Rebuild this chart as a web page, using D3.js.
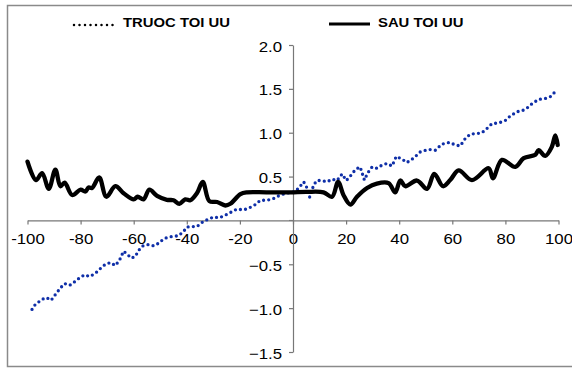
<!DOCTYPE html>
<html>
<head>
<meta charset="utf-8">
<script src="https://cdn.jsdelivr.net/npm/d3@7"></script>
<style>
  body { margin: 0; background: #fff; }
  text { font-family: "Liberation Sans", Arial, sans-serif; }
</style>
</head>
<body>
<div id="chart"></div>
<script>
// values: [x, y]
const sauPts = [
    [-100, 0.67], [-96.8, 0.46], [-94.5, 0.54], [-92, 0.36], [-89.5, 0.58], [-87.6, 0.39],
    [-86, 0.43], [-83.2, 0.29], [-80, 0.35], [-78.2, 0.33], [-77, 0.375], [-75.7, 0.37],
    [-73, 0.49], [-70.3, 0.27], [-66.9, 0.39], [-63.8, 0.31], [-60, 0.24], [-58.5, 0.27],
    [-56.3, 0.24], [-54.1, 0.35], [-51.2, 0.28], [-47.5, 0.235], [-45, 0.23], [-42.8, 0.19],
    [-40.6, 0.24], [-38.7, 0.23], [-36.2, 0.31], [-34, 0.44], [-31.5, 0.22], [-28.6, 0.21],
    [-25.5, 0.17], [-23.6, 0.19], [-19.8, 0.3], [-17.3, 0.32], [-10, 0.32], [-1, 0.32],
    [5, 0.325], [11.5, 0.32], [14.7, 0.27], [17, 0.44], [19, 0.29], [21.6, 0.18],
    [24.1, 0.27], [27.9, 0.37], [31.6, 0.42], [36, 0.425], [38.5, 0.32], [40.4, 0.455],
    [42.3, 0.39], [46.7, 0.455], [50.5, 0.36], [53.2, 0.53], [56.5, 0.39], [59.2, 0.46],
    [62.4, 0.57], [67.4, 0.46], [73.7, 0.595], [75.3, 0.48], [78.7, 0.69], [83.7, 0.61],
    [86.9, 0.71], [91.3, 0.75], [92.5, 0.8], [95, 0.735], [97.5, 0.84], [98.8, 0.97],
    [99.7, 0.86]
];

const truocPts = [
    [-98.3, -1.015], [-97.1, -0.96], [-94.5, -0.9], [-92.9, -0.88], [-91.1, -0.91], [-89.5, -0.845],
    [-87.6, -0.77], [-86, -0.72], [-84.1, -0.74], [-82.3, -0.7], [-80.4, -0.655], [-78.5, -0.62],
    [-76.6, -0.64], [-74.5, -0.605], [-72.6, -0.55], [-70.7, -0.5], [-68.8, -0.48], [-66.9, -0.515],
    [-65.3, -0.45], [-63.8, -0.35], [-62.3, -0.39], [-60.9, -0.43], [-59.4, -0.41], [-58.1, -0.34],
    [-56.5, -0.29], [-54.4, -0.275], [-52.5, -0.29], [-50.6, -0.26], [-48.7, -0.21], [-46.9, -0.19],
    [-45, -0.18], [-43.1, -0.175], [-41.2, -0.125], [-39.9, -0.075], [-38, -0.07], [-36.2, -0.07],
    [-33.7, -0.01], [-31.8, 0.015], [-29.9, 0.04], [-28, 0.03], [-26.1, 0.05], [-23.6, 0.09],
    [-21.1, 0.13], [-18.6, 0.12], [-16.7, 0.14], [-14.2, 0.18], [-12.3, 0.23], [-9.8, 0.23],
    [-7.3, 0.25], [-4.8, 0.29], [-2.3, 0.31], [0.9, 0.33], [2.7, 0.39], [4, 0.44],
    [5, 0.39], [6.3, 0.265], [7.8, 0.405], [9, 0.455], [10.9, 0.455], [12.8, 0.44],
    [14.7, 0.47], [16.6, 0.455], [18.5, 0.53], [20.1, 0.455], [22, 0.52], [23.5, 0.58],
    [25.3, 0.61], [26.9, 0.46], [28.1, 0.54], [29.8, 0.61], [31.6, 0.595], [33.5, 0.63],
    [35.4, 0.65], [37.3, 0.62], [38.9, 0.73], [41, 0.7], [42.9, 0.66], [45.4, 0.71],
    [47.9, 0.78], [51.1, 0.81], [53.6, 0.8], [56.1, 0.87], [59, 0.89], [61.1, 0.86],
    [63, 0.85], [64.9, 0.935], [66.8, 0.985], [69.3, 0.99], [71.2, 1.0], [73.1, 1.05],
    [75, 1.105], [77.4, 1.11], [80, 1.14], [81.8, 1.19], [84.4, 1.24], [86.3, 1.25],
    [88.1, 1.28], [90, 1.33], [92.5, 1.38], [95, 1.39], [96.9, 1.41], [98.2, 1.45],
    [99.4, 1.49]
];

const xTicks = [-100, -80, -60, -40, -20, 0, 20, 40, 60, 80, 100];
const yTicks = [-1.5, -1.0, -0.5, 0, 0.5, 1.0, 1.5, 2.0];
const seriesNames = ["TRUOC TOI UU", "SAU TOI UU"];

const width = 572,
      height = 371,
      stretch = 1.12; // text in the picture is a bit wide

let svg = d3.select("#chart")
    .append("svg")
    .attr("width", width)
    .attr("height", height);

// outer frame
svg.append("rect")
    .attr("x", 7.5).attr("y", 5.5)
    .attr("width", 570).attr("height", 361)
    .attr("fill", "none")
    .attr("stroke", "#8a8a8a")
    .attr("stroke-width", 1.5);

let x = d3.scaleLinear()
    .domain([-100, 100])
    .range([27.5, 558.5]);

let y = d3.scaleLinear()
    .domain([-1.5, 2])
    .range([352, 45]);

// x axis through y = 0
let gx = svg.append("g")
    .attr("transform", `translate(0,${y(0)})`)
    .call(d3.axisBottom(x)
        .tickValues(xTicks)
        .tickSize(4)
        .tickSizeOuter(0)
        .tickPadding(8.5)
        .tickFormat(d => d));

// y axis through x = 0
let gy = svg.append("g")
    .attr("transform", `translate(${x(0)},0)`)
    .call(d3.axisLeft(y)
        .tickValues(yTicks.filter(d => d !== 0))
        .tickSize(4)
        .tickSizeOuter(0)
        .tickPadding(5.8)
        .tickFormat(d3.format(".1f")));

// a small tick at 0 on the y axis, no label
gy.append("line")
    .attr("x1", -4).attr("x2", 0)
    .attr("y1", y(0)).attr("y2", y(0))
    .attr("stroke", "#777");

for (let g of [gx, gy]) {
    g.select(".domain").attr("stroke", "#777").attr("stroke-width", 1.2);
    g.selectAll(".tick line").attr("stroke", "#777").attr("stroke-width", 1.2);
    g.selectAll(".tick text")
        .attr("fill", "#000")
        .style("font-size", "15px")
        .attr("transform", `scale(${stretch},1)`);
}
gy.selectAll(".tick text").attr("dy", "0.4em");

// series lines
let lineSau = d3.line()
    .x(d => x(d[0]))
    .y(d => y(d[1]))
    .curve(d3.curveCatmullRom.alpha(0.5));

let lineTruoc = d3.line()
    .x(d => x(d[0]))
    .y(d => y(d[1]));

svg.append("path")
    .datum(truocPts)
    .attr("d", lineTruoc)
    .attr("fill", "none")
    .attr("stroke", "#0f2fa8")
    .attr("stroke-width", 3.3)
    .attr("stroke-linecap", "round")
    .attr("stroke-dasharray", "0 5.2");

svg.append("path")
    .datum(sauPts)
    .attr("d", lineSau)
    .attr("fill", "none")
    .attr("stroke", "#000")
    .attr("stroke-width", 4.3)
    .attr("stroke-linejoin", "round")
    .attr("stroke-linecap", "round");

// legend
let legend = svg.append("g");

legend.append("line")
    .attr("x1", 74).attr("x2", 118)
    .attr("y1", 25).attr("y2", 25)
    .attr("stroke", "#000")
    .attr("stroke-width", 2.5)
    .attr("stroke-linecap", "round")
    .attr("stroke-dasharray", "0 5.5");

legend.append("text")
    .attr("x", 123 / 1.1).attr("y", 27)
    .attr("transform", "scale(1.1,1)")
    .style("font-size", "13.5px")
    .style("font-weight", "bold")
    .text(seriesNames[0]);

legend.append("line")
    .attr("x1", 329).attr("x2", 370)
    .attr("y1", 24).attr("y2", 24)
    .attr("stroke", "#000")
    .attr("stroke-width", 3);

legend.append("text")
    .attr("x", 378 / 1.1).attr("y", 27)
    .attr("transform", "scale(1.1,1)")
    .style("font-size", "13.5px")
    .style("font-weight", "bold")
    .text(seriesNames[1]);
</script>
</body>
</html>
